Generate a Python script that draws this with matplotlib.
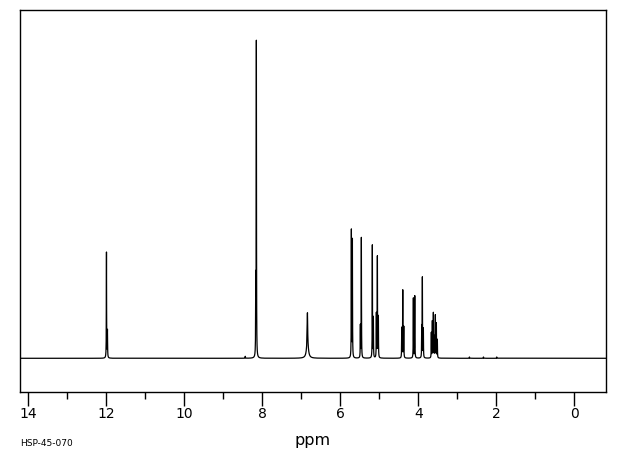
import matplotlib.pyplot as plt
import numpy as np

# peak list: chemical shift (ppm) and height relative to the tallest line
shift = [12.000, 11.975, 8.155, 8.170, 6.845, 6.845,
         5.718, 5.692, 5.487, 5.462,
         5.180, 5.154, 5.077, 5.051, 5.026,
         4.426, 4.400, 4.374, 4.128, 4.092,
         3.913, 3.897, 3.872,
         3.667, 3.641, 3.615, 3.590, 3.564, 3.538, 3.513,
         8.440, 2.690, 2.330, 1.990]
height = [0.332, 0.085, 0.985, 0.225, 0.088, 0.055,
          0.400, 0.370, 0.100, 0.378,
          0.354, 0.125, 0.138, 0.317, 0.128,
          0.094, 0.212, 0.097, 0.188, 0.195,
          0.094, 0.250, 0.090,
          0.079, 0.114, 0.140, 0.066, 0.133, 0.108, 0.057,
          0.006, 0.004, 0.004, 0.004]
# half width at half height (ppm) of each line
hwhm = [0.0035, 0.004, 0.0035, 0.004, 0.006, 0.025,
        0.0035, 0.0035, 0.0035, 0.0035,
        0.0035, 0.0035, 0.0035, 0.0035, 0.0035,
        0.0035, 0.0035, 0.0035, 0.0035, 0.0035,
        0.0035, 0.0035, 0.0035,
        0.0035, 0.0035, 0.0035, 0.0035, 0.0035, 0.0035, 0.0035,
        0.004, 0.004, 0.004, 0.004]

xticks = [14, 12, 10, 8, 6, 4, 2, 0]
sample_id = "HSP-45-070"

# spectrum as a sum of lorentzian lines
ppm = np.arange(-1.0, 14.5, 0.0002)
ppm = np.sort(np.concatenate([ppm, shift]))
spec = np.zeros_like(ppm)
for s, h, g in zip(shift, height, hwhm):
    spec += h * g**2 / ((ppm - s)**2 + g**2)

fig = plt.figure(figsize=(6.2, 4.55), dpi=100)
ax = fig.add_axes([20/620, 63/455, 586/620, 382/455])
ax.plot(ppm, spec, color='black', lw=0.9)
ax.set_xlim(14.218, -0.813)
ax.set_ylim(-0.106, 1.095)

ax.set_yticks([])
ax.set_xticks(xticks)
ax.set_xticks([13, 11, 9, 7, 5, 3, 1], minor=True)
ax.tick_params(axis='x', which='major', length=10, width=1, pad=1, labelsize=10)
ax.tick_params(axis='x', which='minor', length=5, width=1)
for sp in ax.spines.values():
    sp.set_linewidth(1)

fig.text(313/620, 15/455, 'ppm', ha='center', va='center', fontsize=11.5)
fig.text(20/620, 12/455, sample_id, ha='left', va='center', fontsize=6.5)

fig.savefig('out.png', dpi=100)
